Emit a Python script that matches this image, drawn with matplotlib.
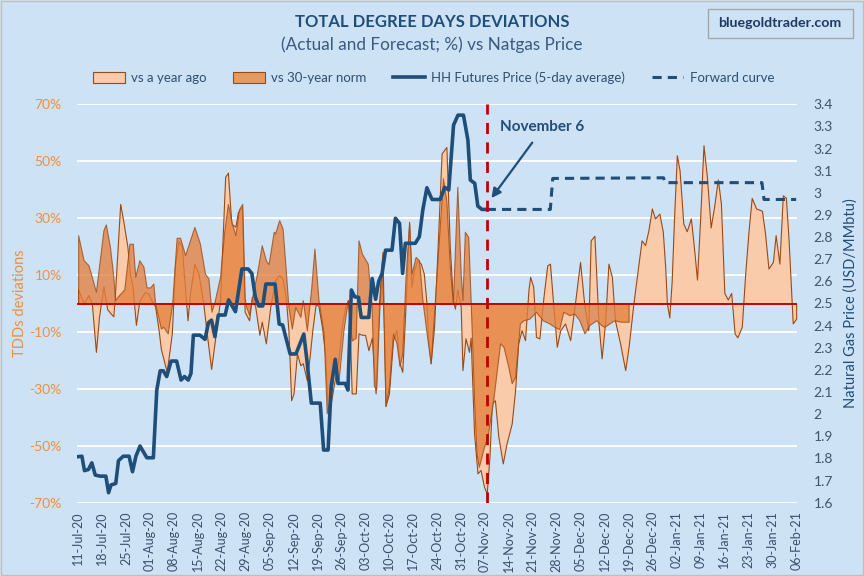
import numpy as np
import pandas as pd
import matplotlib
matplotlib.use('Agg')
import matplotlib.pyplot as plt
import matplotlib.dates as mdates
from matplotlib.patches import Patch, Rectangle, FancyBboxPatch
from matplotlib.lines import Line2D

plt.rcParams['font.family'] = ['Lato', 'DejaVu Sans']

start = pd.Timestamp('2020-07-11')

# vs a year ago (%), day offset from 11-Jul-20
year_ago_days = [0, 1.6, 3, 4, 5.2, 6.1, 7.4, 8.5, 9.5, 10.3, 10.8, 12.3, 13.2, 14.4, 15.2, 15.9, 16.9, 17.9,
                 19.5, 20.5, 21.5, 22.5, 23.5, 24.2, 25.9, 27.4, 28.3, 29.3, 30.3, 32, 32.7, 34, 35.2, 36.6,
                 37.6, 38.9, 40, 41.5, 42.5, 43.0, 43.8, 44.8, 46, 46.7, 47.9, 48.7, 50.0, 50.8, 51.8, 53,
                 53.7, 54.9, 56.2, 57.6, 58.8, 59.8, 60.8, 61.5, 62.3, 63, 64, 65, 65.7, 66.9, 67.7, 68.5,
                 69.5, 70.3, 71.3, 72.2, 73, 73.4, 74.2, 75.2, 76.1, 77.1, 78.1, 78.9, 79.5, 80, 81.2, 82,
                 83, 83.9, 84.9, 85.9, 87, 88, 89, 89.9, 90.9, 92.1, 93.1, 94, 94.8, 95.6, 96.8, 97.5, 98.2,
                 99.2, 100.2, 101.1, 101.8, 102.4, 103.1, 104.1, 105.1, 106.3, 107, 107.7, 108.7, 109.6,
                 110.2, 110.9, 111.9, 112.4, 113.3, 114.3, 114.8, 115.8, 116.8, 117.7, 118.7, 119.5, 120.3,
                 121, 121.9, 122.9, 124.2, 125.3, 126.8, 127.8, 128.7, 129.7, 130.7, 131.7, 132.2, 133.1,
                 133.9, 134.9, 136.1, 137.2, 138, 139, 140, 141, 142.4, 143.9, 145.3, 146.8, 148, 149.2,
                 149.9, 151, 152.2, 153.1, 154.1, 155.1, 156.1, 157, 158.5, 160, 161, 162.4, 163.9, 164.8,
                 165.8, 166.8, 167.8, 168.7, 170, 171, 171.7, 172.2, 172.9, 173.6, 174.3, 175.1, 175.9,
                 177, 178, 179.2, 180, 181, 181.9, 182.9, 183.9, 185, 186, 187.1, 188, 189, 190, 191, 192,
                 192.8, 194.1, 195.1, 196.1, 197, 198.3, 200, 200.9, 201.9, 203.2, 204, 205.1, 206.1, 207,
                 207.8, 209, 210]
year_ago_pct = [5, 0, 3, 0, -17, -4.7, 6, -2, -3.5, -4.5, 4, 35, 29, 20, 10, 6, -7.5, 1,
                4, 3.5, 1, -1, -9, -16, -24, -10.5, 13, 22, 20, -5.9, 3.5, 14, 10.5, 0,
                -10.5, -23, -12.9, 1.2, 30, 44.5, 46, 28, 27, 32, 34, -2.9, -5.9, 2.3, -1.2, -11,
                -6.4, -14, -1.2, 8.2, 10, 8.8, 1.2, -9.4, -34, -31.6, -17.6, -21.7, -21, -27, -18.7, -9.4,
                0, -1, -8.2, -17.6, -38, -38.6, -32.8, -25.8, -20, -8.2, -1.2, 1.2, -10.5, -31.6, -31.6, -10.5,
                -11, -11, -16.4, -12, -31.6, 0, 18.1, -36, -31.6, -12.9, -9.4, -21, -24, -4.7, 28.7, 5.9, 11.7,
                15.2, 14, 10.5, 1.2, -12.9, -21, -8.2, 18.7, 52.7, 53.9, 55, 20, 1.2,
                -1.8, 5, -1.2, -23.4, -12.2, -17, -12, -45.7, -59.7, -58.5, -64.4, -66.7, -53.9,
                -35.1, -34, -46.8, -56.2, -49.2, -42.2, -30.4, -14, -9.4, -12.9, 4.7, 9.4, 5.9,
                -11.7, -12.3, 2.3, 13.4, 14, -1.2, -15.2, -9.4, -7, -12.9, 0, 14.6, 0, -9.4,
                22.2, 23.8, -7, -19.3, -7, 14, 9.4, -5.9, -14, -23.4, -15.2, 0, 14, 22.2,
                20.5, 25.8, 33.4, 29.9, 31.6, 25.2, 12.9, 0, -4.9, 8, 30.4, 52.1, 46.8,
                28.1, 25.4, 29.9, 21, 8.4, 29.3, 55.6, 44.5, 26.7, 34, 43.6, 35.1, 3.7, 1.4, 3.7, -10.5,
                -11.9, -8.2, 10.5, 25.8, 37.1, 33.4, 32.6, 24.6, 12.3, 14.6, 24, 14, 38, 37.2,
                22.2, -7, -5.3]

# vs 30-year norm (%)
norm_days = [0, 1.6, 3, 4, 5.2, 7.4, 8.1, 9.3, 10.3, 10.8, 12, 13.5, 15, 16, 16.7, 17.9, 19.1, 20, 21, 22,
             22.5, 24.2, 24.9, 26.2, 27.5, 28.8, 29.8, 31.3, 32.7, 34, 35.6, 37.1, 38.1, 39, 40, 41.5, 42.7,
             43.8, 45, 46, 47, 48, 48.7, 49.1, 50, 51, 52.3, 53.7, 54.9, 55.7, 57.2, 57.6, 58.8, 59.8, 60.8,
             61.5, 62.5, 63.5, 65, 65.7, 66.9, 68.2, 69.1, 70.3, 71.8, 72.7, 74.2, 75.2, 76.1, 77.6, 78.9,
             80, 81.2, 82, 83, 84.7, 85.8, 86.5, 87.2, 88, 88.8, 89.4, 89.9, 90.9, 92.1, 93.1, 94, 94.8,
             95.8, 96.8, 97.5, 98.7, 99.7, 100.7, 101.8, 103.1, 104.1, 105.1, 106.7, 107.7, 108.7, 109.6,
             110.9, 111.9, 112.4, 113.1, 114.1, 114.8, 115.8, 116.5, 117.2, 118.7, 119.7, 121.4, 123.4,
             124.4, 125.8, 126.8, 127.8, 129.2, 130.2, 132, 133.9, 135.9, 137.8, 139.3, 140.7, 141.9,
             143.7, 145.1, 146.6, 148.1, 149.5, 151.5, 153, 153.9, 155.4, 156.8, 158.8, 161]
norm_pct = [24, 15.2, 13.5, 9.4, 4.1, 25.8, 27.8, 19.9, 9.4, 1.2, 3, 5, 21, 21, 9.4, 15.2, 12.9, 5.7, 5.6, 7,
            0, -8.8, -8.2, -10.5, 0, 23.1, 23.1, 17, 22.2, 26.9, 21.1, 10.5, 8.8, -2.9, 1.2, 9.4, 25,
            35, 28, 24, 33, 35, 2, -1, -4, 3, 10.5, 20.5, 15.2, 13.8, 25.2, 24.6, 29.3, 26.3, 10.5,
            -1.2, -8.8, -1.2, -4.7, 1.2, -9.4, 5.9, 19.3, 1.2, -10.5, -38.6, -30, -20, -28, -9.4, 1.2,
            -13, -12, 22.2, 17.5, 14, 0, -29, -30, -4.7, 15, -10, -36, -29, -10.5, -14, -22, -17.6,
            10.5, 28, 10.5, 16.4, 15.2, 1.2, -9.4, -21, -3.5, 15.2, 44, 36, 12.9, 0,
            41, 10.5, 1.2, 25.2, 23.4, 1.2, -34, -52.7, -57.4, -50.4, -47, -34, -14,
            -15.2, -22.2, -28, -25.8, -7, -5.9, -5.3, -2.9, -5.9, -7, -8.2, -9, -2.9,
            -4.1, -3.5, -5.9, -10.5, -7.6, -5.9, -7.6, -8.2, -7, -5.9, -6.4, -6.4]

# HH futures price, 5-day average (USD/MMbtu)
price_days = [0, 1.1, 1.85, 3, 4, 5, 6.4, 8.1, 8.9, 9.6, 11, 11.8, 13.2, 14.9, 15.9, 16.9, 18.1, 20.1, 22,
              23, 24, 24.9, 25.9, 27.2, 28.8, 30.1, 31.1, 32.2, 33, 33.7, 35.6, 37.1, 38.1, 39, 40, 41,
              43, 44, 45, 46, 47.9, 49.7, 50.8, 51.8, 52.8, 54, 54.9, 57.6, 58.8, 59.8, 62, 63.7, 66,
              66.9, 68.2, 70.8, 71.8, 73.1, 74.0, 75.2, 76, 78.1, 78.9, 79.9, 80.9, 82, 82.8, 85, 86,
              87, 87.9, 88.9, 89.9, 91.8, 92.8, 94, 94.9, 95.7, 98.6, 99.8, 100.8, 102, 103.5, 105.9,
              107.2, 108.4, 109.8, 111.1, 112.7, 114, 114.7, 116, 116.9, 118.1, 119.5]
price = [1.808, 1.81, 1.745, 1.75, 1.78, 1.725, 1.72, 1.72, 1.645, 1.68, 1.687, 1.79, 1.81, 1.81, 1.74, 1.81,
         1.856, 1.803, 1.803, 2.109, 2.196, 2.196, 2.17, 2.24, 2.24, 2.154, 2.17, 2.154, 2.184, 2.357, 2.357,
         2.338, 2.413, 2.425, 2.35, 2.448, 2.448, 2.516, 2.49, 2.463, 2.656, 2.656, 2.636, 2.53, 2.489, 2.489,
         2.588, 2.588, 2.407, 2.403, 2.272, 2.272, 2.362, 2.245, 2.05, 2.05, 1.838, 1.838, 2.124, 2.248,
         2.139, 2.139, 2.109, 2.561, 2.53, 2.528, 2.437, 2.437, 2.613, 2.519, 2.6, 2.636, 2.741, 2.741,
         2.885, 2.862, 2.636, 2.772, 2.772, 2.802, 2.922, 3.023, 2.97, 2.97, 3.025, 3.013, 3.306, 3.351,
         3.351, 3.238, 3.058, 3.043, 2.94, 2.925, 2.925]

# forward curve (USD/MMbtu)
fwd_days = [119.5, 138.1, 138.8, 171.2, 171.7, 200.0, 200.6, 210]
fwd_price = [2.925, 2.925, 3.065, 3.068, 3.046, 3.046, 2.97, 2.97]

split_day = 119.5


def to_dates(days):
    return start + pd.to_timedelta(np.array(days, dtype=float), unit='D')


bg = '#cde2f5'
dark_blue = '#1f4e79'
orange_txt = '#f0903e'
edge_brown = '#9c4a14'

fig = plt.figure(figsize=(8.64, 5.76), dpi=100, facecolor=bg)
ax = fig.add_axes([77 / 864, 1 - 502.7 / 576, 720 / 864, 398.4 / 576])
ax.set_facecolor(bg)
ax2 = ax.twinx()

ya_d = to_dates(year_ago_days)
nm_d = to_dates(norm_days)
ax.fill_between(ya_d, 0, year_ago_pct, facecolor='#f9cbaa', edgecolor=edge_brown, linewidth=0.8, zorder=2)
ax.fill_between(nm_d, 0, norm_pct, facecolor='#e5803c', alpha=0.78, edgecolor=edge_brown, linewidth=0.8,
                zorder=3)
ax.axhline(0, color='#c00000', lw=1.3, zorder=4)

ax.set_ylim(-70, 70)
ax.set_yticks(np.arange(-70, 71, 20))
ax.set_yticklabels([f'{v}%' for v in range(-70, 71, 20)])
ax.yaxis.grid(True, color='white', lw=1.3)
ax.set_axisbelow(True)
ax.tick_params(axis='y', colors=orange_txt, labelsize=10, length=0, pad=11)
ax.set_ylabel('TDDs deviations', color=orange_txt, fontsize=10.5)
ax.yaxis.set_label_coords(-0.069, 0.5)

ax2.plot(to_dates(price_days), price, color=dark_blue, lw=2.6, zorder=5)
ax2.plot(to_dates(fwd_days), fwd_price, color=dark_blue, lw=2.2, ls=(0, (3, 2)), zorder=5)
ax2.set_ylim(1.6, 3.4)
ax2.set_yticks(np.arange(16, 35) / 10)
ax2.set_yticklabels([f'{v / 10:g}' for v in range(16, 35)])
ax2.tick_params(axis='y', colors='#44546a', labelsize=10, length=0, pad=12)
ax2.set_ylabel('Natural Gas Price (USD/MMbtu)', color=dark_blue, fontsize=10.5)
ax2.yaxis.set_label_coords(1.064, 0.5)

split = to_dates([split_day])[0]
ax2.axvline(split, color='#c00000', lw=2, ls=(0, (4, 3)), zorder=6)

ax2.text(to_dates([123.3])[0], 3.296, 'November 6', color=dark_blue, fontsize=11, fontweight='bold',
         ha='left', va='center')
ax2.annotate('', xy=(to_dates([120.4])[0], 2.966), xytext=(to_dates([133.3])[0], 3.237),
             arrowprops=dict(arrowstyle='-|>', color=dark_blue, lw=1.6, mutation_scale=14))

ticks = pd.date_range('2020-07-11', '2021-02-06', freq='7D')
ax.set_xticks(ticks)
ax.xaxis.set_major_formatter(mdates.DateFormatter('%d-%b-%y'))
ax.tick_params(axis='x', colors='#3b4e6b', labelsize=9, length=0, pad=6, labelrotation=90)
ax.set_xlim(start - pd.Timedelta(hours=8), ticks[-1] + pd.Timedelta(hours=6))

for a in (ax, ax2):
    for s in a.spines.values():
        s.set_visible(False)

fig.text(0.5, 1 - 22 / 576, 'TOTAL DEGREE DAYS DEVIATIONS', ha='center', va='center', color=dark_blue,
         fontsize=12, fontweight='bold')
fig.text(0.5, 1 - 45 / 576, '(Actual and Forecast; %) vs Natgas Price', ha='center', va='center',
         color='#3a5a80', fontsize=12.3)

box = FancyBboxPatch((708 / 864, 1 - 38 / 576), 145 / 864, 29 / 576, boxstyle='square,pad=0',
                     transform=fig.transFigure, facecolor=bg, edgecolor='#a6a6a6', lw=1)
fig.patches.append(box)
fig.text(780 / 864, 1 - 23 / 576, 'bluegoldtrader.com', ha='center', va='center', color='#1f3864',
         fontsize=10.2, fontweight='bold')

handles = [Patch(facecolor='#f9cbaa', edgecolor=edge_brown, lw=0.8),
           Patch(facecolor='#e59a62', edgecolor=edge_brown, lw=0.8),
           Line2D([], [], color=dark_blue, lw=2.6),
           Line2D([], [], color=dark_blue, lw=2.2, ls=(0, (3, 2)))]
labels = ['vs a year ago', 'vs 30-year norm', 'HH Futures Price (5-day average)', 'Forward curve']
leg = fig.legend(handles, labels, loc='center', bbox_to_anchor=(0.502, 1 - 78 / 576), ncol=4, frameon=False,
                 fontsize=9.5, handlelength=2.4, handleheight=0.9, columnspacing=2.0, handletextpad=0.5)
for t in leg.get_texts():
    t.set_color('#2f4f6f')

fig.patches.append(Rectangle((0.001, 0.001), 0.998, 0.998, transform=fig.transFigure, fill=False,
                             edgecolor='#bfbfbf', lw=1))

fig.savefig('out.png', dpi=100, facecolor=bg)
